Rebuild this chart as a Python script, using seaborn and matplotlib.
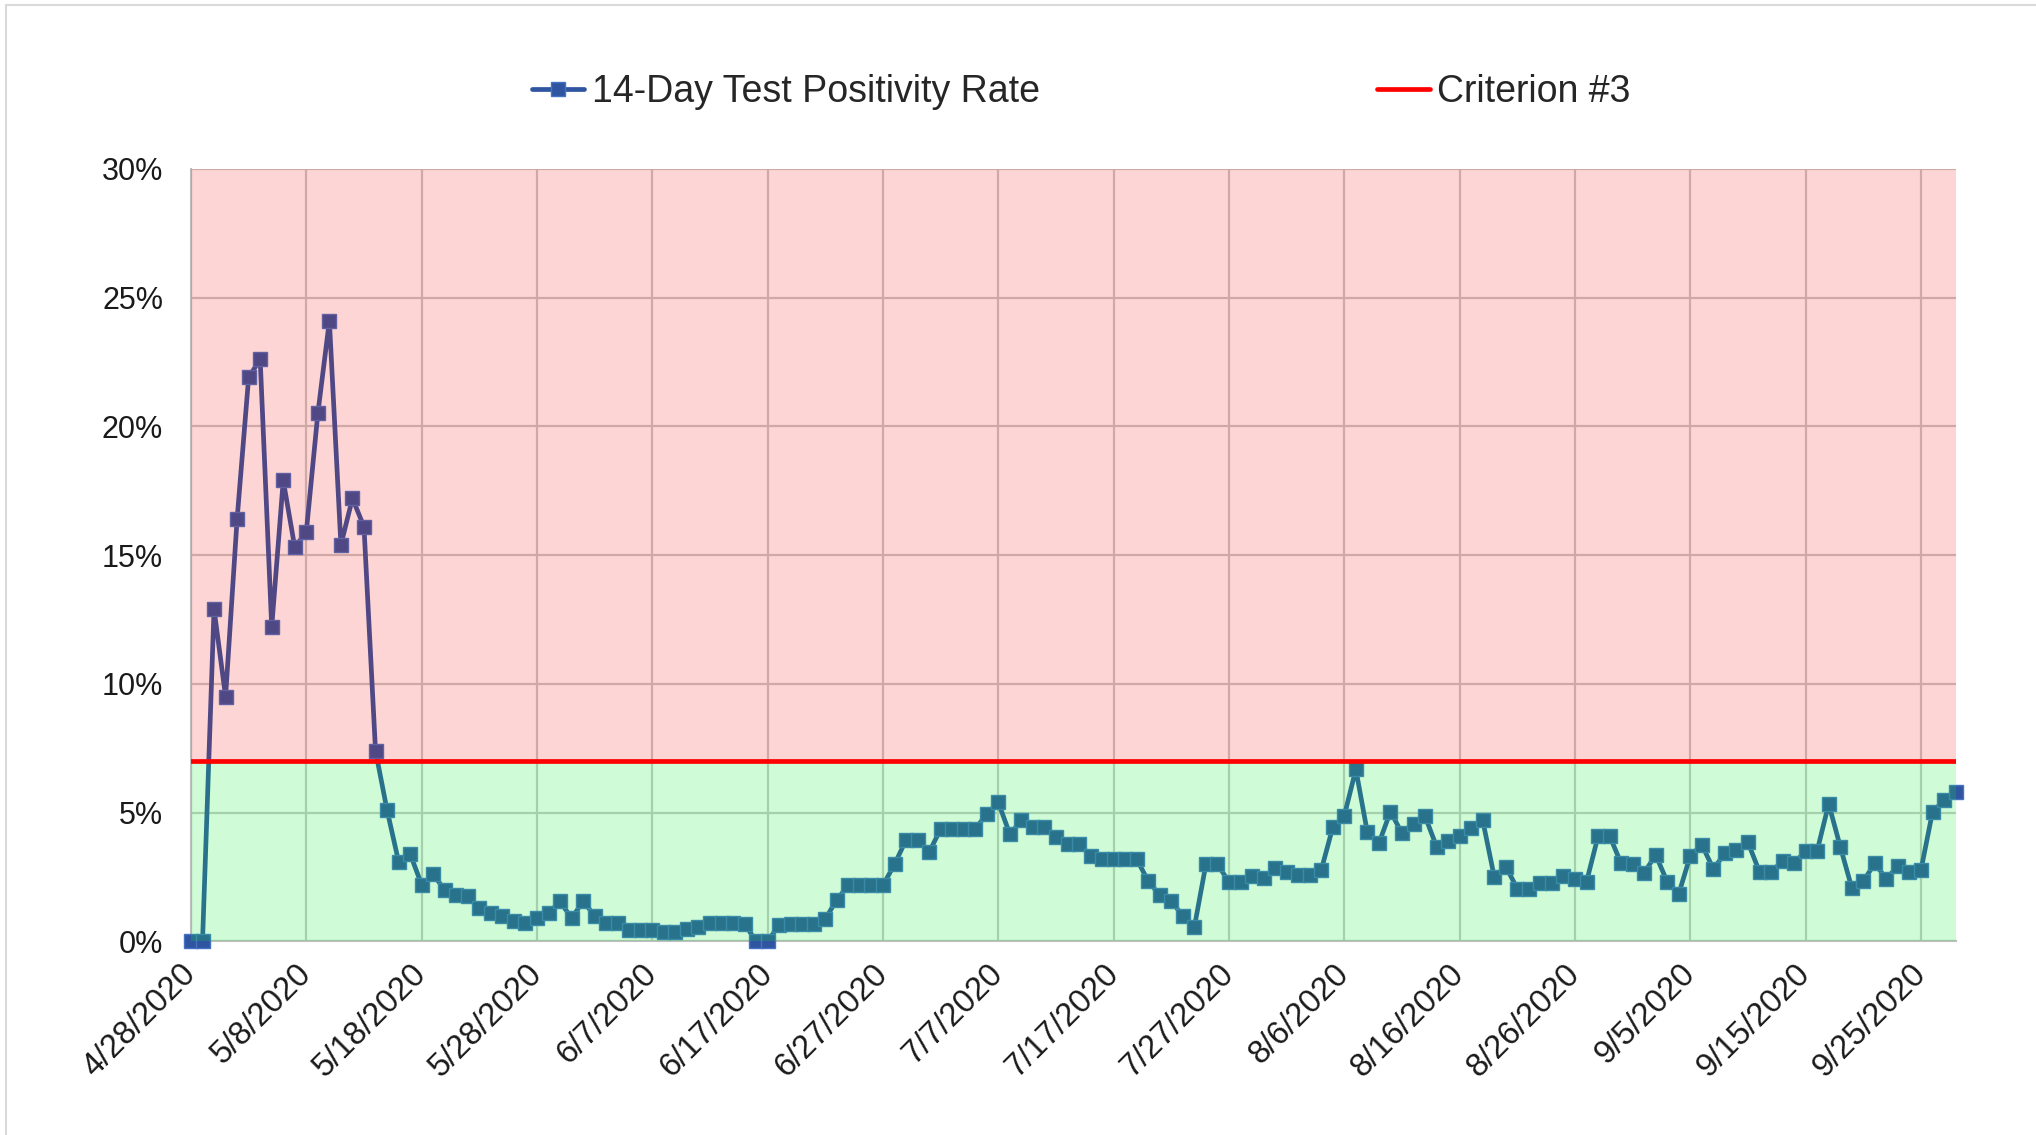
import matplotlib
matplotlib.use("Agg")
import matplotlib.pyplot as plt
import matplotlib.dates as mdates
from matplotlib.lines import Line2D
from matplotlib.ticker import FixedLocator, FuncFormatter, MultipleLocator, PercentFormatter
import seaborn as sns
import pandas as pd

# 14-day positivity rate (%), one value per day from 4/28/2020
start_date = "2020-04-28"
positivity = [
    0, 0, 12.9, 9.5, 16.4, 21.9, 22.6, 12.2, 17.9, 15.3,
    15.9, 20.5, 24.1, 15.4, 17.2, 16.1, 7.4, 5.1, 3.1, 3.4,
    2.2, 2.6, 2.0, 1.8, 1.75, 1.3, 1.1, 1.0, 0.8, 0.7,
    0.9, 1.1, 1.55, 0.9, 1.55, 1.0, 0.7, 0.7, 0.45, 0.45,
    0.45, 0.35, 0.35, 0.48, 0.57, 0.72, 0.72, 0.72, 0.68, 0,
    0, 0.64, 0.68, 0.68, 0.68, 0.87, 1.62, 2.18, 2.18, 2.18,
    2.18, 2.99, 3.94, 3.94, 3.46, 4.36, 4.36, 4.36, 4.36, 4.95,
    5.40, 4.16, 4.70, 4.44, 4.44, 4.05, 3.79, 3.79, 3.33, 3.19,
    3.19, 3.19, 3.19, 2.34, 1.79, 1.58, 0.97, 0.56, 2.99, 2.99,
    2.31, 2.31, 2.53, 2.47, 2.83, 2.68, 2.57, 2.57, 2.77, 4.43,
    4.88, 6.68, 4.23, 3.81, 5.04, 4.20, 4.57, 4.86, 3.68, 3.88,
    4.11, 4.40, 4.70, 2.51, 2.90, 2.05, 2.05, 2.25, 2.25, 2.55,
    2.42, 2.31, 4.08, 4.10, 3.03, 2.99, 2.66, 3.36, 2.31, 1.85,
    3.33, 3.75, 2.81, 3.42, 3.55, 3.84, 2.70, 2.70, 3.12, 3.03,
    3.52, 3.52, 5.34, 3.68, 2.08, 2.34, 3.03, 2.42, 2.94, 2.68,
    2.77, 5.03, 5.48, 5.80,
]
criterion = 7.0
y_max = 30.0
series_label = "14-Day Test Positivity Rate"
criterion_label = "Criterion #3"

dates = pd.date_range(start_date, periods=len(positivity), freq="D")
df = pd.DataFrame({"date": dates, "rate": [v / 100 for v in positivity]})

sns.set_style("white")
plt.rcParams["font.family"] = ["Liberation Sans", "DejaVu Sans"]

fig = plt.figure(figsize=(20.36, 11.35), dpi=100)
ax = fig.add_axes([0.0938, 0.1706, 0.8667, 0.6807])

line_blue = "#2F55A0"
ax.grid(True, which="major", color="#CACACA", linewidth=1.6, zorder=0)
ax.set_axisbelow(True)

sns.lineplot(data=df, x="date", y="rate", ax=ax, color=line_blue,
             linewidth=3.4, marker="s", markersize=10.5,
             markerfacecolor=line_blue, markeredgecolor="#4472C4",
             markeredgewidth=1.0, clip_on=False, zorder=2, legend=False)

# translucent bands sit on top of the line, as in the original chart
ax.axhspan(criterion / 100, y_max / 100, color="#F30800", alpha=0.17,
           linewidth=0, zorder=3)
ax.axhspan(0, criterion / 100, color="#0FF037", alpha=0.20,
           linewidth=0, zorder=3)
ax.axhline(criterion / 100, color="#FF0000", linewidth=3.4, zorder=4)

ax.set_xlim(dates[0], dates[-1])
ax.set_ylim(0, y_max / 100)
ax.yaxis.set_major_locator(MultipleLocator(0.05))
ax.yaxis.set_minor_locator(MultipleLocator(0.01))
ax.yaxis.set_major_formatter(PercentFormatter(1.0, decimals=0))

ax.xaxis.set_major_locator(FixedLocator(mdates.date2num(dates[::10])))
ax.xaxis.set_minor_locator(FixedLocator(mdates.date2num(dates[::2])))
ax.xaxis.set_major_formatter(FuncFormatter(
    lambda v, p: "{d.month}/{d.day}/{d.year}".format(d=mdates.num2date(v))))

ax.set_xlabel("")
ax.set_ylabel("")
ax.tick_params(axis="both", which="both", direction="in", color="#BFBFBF",
               labelcolor="#1A1A1A")
ax.tick_params(axis="y", which="major", labelsize=22, pad=20)
ax.tick_params(axis="x", which="major", labelsize=23.5, pad=20)
ax.tick_params(axis="both", which="major", length=7, width=1.2)
ax.tick_params(axis="both", which="minor", length=5, width=1.0)
for lbl in ax.get_xticklabels():
    lbl.set_rotation(45)
    lbl.set_ha("right")
    lbl.set_va("center")
    lbl.set_rotation_mode("anchor")

for side in ["top", "right"]:
    ax.spines[side].set_visible(False)
for side in ["left", "bottom"]:
    ax.spines[side].set_color("#BFBFBF")
    ax.spines[side].set_linewidth(1.5)
    ax.spines[side].set_zorder(1)

handles = [
    Line2D([], [], color=line_blue, linewidth=3.4, marker="s", markersize=10.5,
           markerfacecolor=line_blue, markeredgecolor="#4472C4"),
    Line2D([], [], color="#FF0000", linewidth=3.4),
]
fig.legend(handles, [series_label, criterion_label], loc="center",
           bbox_to_anchor=(0.531, 0.919), ncol=2, frameon=False,
           fontsize=27, handlelength=1.4, handletextpad=0.2,
           columnspacing=9.0)

# light chart frame along the top and left edges
fig.add_artist(Line2D([0.003, 1.0], [0.996, 0.996], color="#D9D9D9",
                      linewidth=1.5, transform=fig.transFigure))
fig.add_artist(Line2D([0.003, 0.003], [0.0, 0.996], color="#D9D9D9",
                      linewidth=1.5, transform=fig.transFigure))

fig.savefig("out.png", dpi=100, facecolor="white")
